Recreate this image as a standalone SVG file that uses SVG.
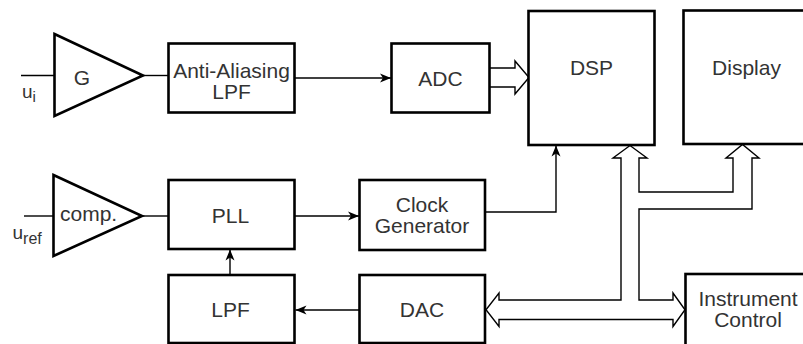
<svg xmlns="http://www.w3.org/2000/svg" width="803" height="344" viewBox="0 0 803 344">
<defs>
<style>
.box{fill:#fff;stroke:#000;stroke-width:2.6}
.tri{fill:#fff;stroke:#000;stroke-width:2.6;stroke-linejoin:miter}
.ln{fill:none;stroke:#000;stroke-width:1.4}
.bus{fill:#fff;stroke:#000;stroke-width:1.4;stroke-linejoin:miter}
text{font-family:"Liberation Sans",Arial,sans-serif;font-size:21px;fill:#333;text-anchor:middle}
.lbl{text-anchor:start;font-size:19px}
</style>
<marker id="ah" markerUnits="userSpaceOnUse" markerWidth="12" markerHeight="10" viewBox="0 0 12 10" refX="11" refY="5" orient="auto">
<path d="M0,0.5 L11,5 L0,9.5 L3,5 Z" fill="#000"/>
</marker>
</defs>
<rect width="803" height="344" fill="#fff"/>
<g id="connectors">
<path class="ln" d="M21,75.5 H54"/>
<path class="ln" d="M143,75.5 H168"/>
<path class="ln" d="M295,78 H391" marker-end="url(#ah)"/>
<path class="bus" d="M490,68 H515 V61 L529,77.5 L515,94 V87 H490"/>
<path class="ln" d="M24,216 H53"/>
<path class="ln" d="M142,216 H168"/>
<path class="ln" d="M295,216 H359" marker-end="url(#ah)"/>
<path class="ln" d="M485,212 H556 V145.5" marker-end="url(#ah)"/>
<path class="ln" d="M230,275 V249.5" marker-end="url(#ah)"/>
<path class="ln" d="M359,310 H295.5" marker-end="url(#ah)"/>
<path class="bus" d="M621,300 V158 H613 L630,145.5 L647,158 H639 V192 H733 V158 H726 L742.5,144.5 L759,158 H752 V209 H639 V300 H673 V293 L685,309.75 L673,326.5 V319.5 H499 V326.5 L486,309.75 L499,293 V300 Z"/>
</g>
<g id="amp-g">
<path class="tri" d="M54.5,34 L143,75.5 L54.5,116 Z"/>
<text x="82" y="85">G</text>
</g>
<g id="anti-aliasing-lpf">
<rect class="box" x="168.5" y="43.5" width="126" height="69"/>
<text x="231.5" y="78">Anti-Aliasing</text>
<text x="231.5" y="99">LPF</text>
</g>
<g id="adc">
<rect class="box" x="391.5" y="43.5" width="98" height="69"/>
<text x="440.5" y="86">ADC</text>
</g>
<g id="dsp">
<rect class="box" x="528.5" y="11" width="126" height="134"/>
<text x="591.5" y="75">DSP</text>
</g>
<g id="display">
<rect class="box" x="683.5" y="10.5" width="127" height="133.5"/>
<text x="746.5" y="75">Display</text>
</g>
<g id="amp-comp">
<path class="tri" d="M53.5,175 L142,216 L53.5,256 Z"/>
<text x="60" y="221" style="text-anchor:start">comp.</text>
</g>
<g id="pll">
<rect class="box" x="168.5" y="180" width="126" height="69"/>
<text x="230.5" y="223">PLL</text>
</g>
<g id="clock-generator">
<rect class="box" x="359.5" y="180" width="125.5" height="70"/>
<text x="422" y="212">Clock</text>
<text x="422" y="233">Generator</text>
</g>
<g id="lpf">
<rect class="box" x="168.5" y="275" width="126" height="68"/>
<text x="230.5" y="317">LPF</text>
</g>
<g id="dac">
<rect class="box" x="359.5" y="275" width="125.5" height="68"/>
<text x="422" y="317">DAC</text>
</g>
<g id="instrument-control">
<rect class="box" x="685.5" y="274" width="127" height="80"/>
<text x="748" y="305.5">Instrument</text>
<text x="748" y="326.5">Control</text>
</g>
<g id="inputs">
<text class="lbl" x="22" y="97.5">u<tspan font-size="15" dy="4">i</tspan></text>
<text class="lbl" x="12.5" y="238.5">u<tspan font-size="16" dy="5">ref</tspan></text>
</g>
</svg>
